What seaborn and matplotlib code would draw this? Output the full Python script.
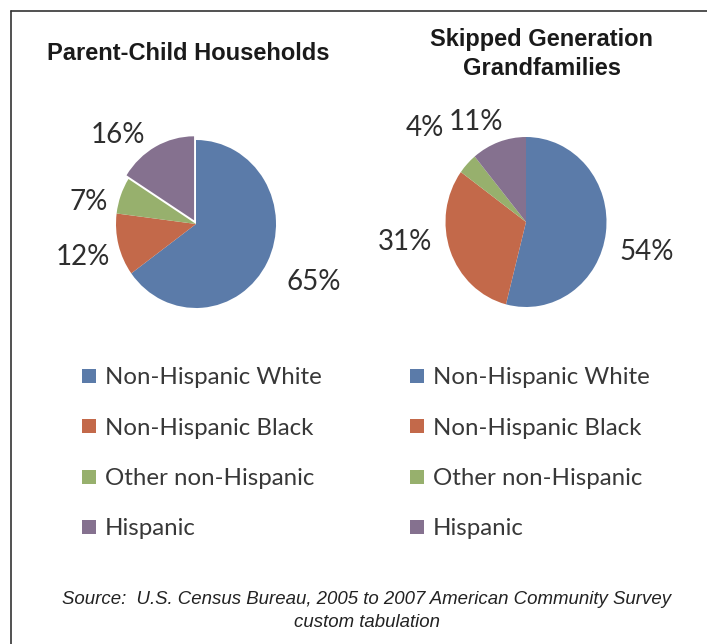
import numpy as np
import matplotlib
matplotlib.use("Agg")
import matplotlib.pyplot as plt
from matplotlib.lines import Line2D
import seaborn as sns

# Race/ethnicity shares for the two household types
categories = ["Non-Hispanic White", "Non-Hispanic Black", "Other non-Hispanic", "Hispanic"]
parent_child = [65, 12, 7, 16]
skipped_gen = [54, 31, 4, 11]
titles = ["Parent-Child Households", "Skipped Generation\nGrandfamilies"]
source_note = ("Source:  U.S. Census Bureau, 2005 to 2007 American Community Survey\n"
               "custom tabulation")

sns.set_theme(style="white")
palette = sns.color_palette(["#5b7ba9", "#c3694a", "#97b06d", "#85718f"])
plt.rcParams["font.family"] = ["Lato", "DejaVu Sans"]

W, H = 707, 644
fig = plt.figure(figsize=(W / 100, H / 100), dpi=100)
fig.patch.set_facecolor("white")


def px_axes(cx, cy, rx, ry, pad=1.25):
    """Axes centred on pixel (cx, cy) whose unit circle spans rx by ry pixels."""
    w, h = 2 * pad * rx, 2 * pad * ry
    ax = fig.add_axes([(cx - w / 2) / W, (H - cy - h / 2) / H, w / W, h / H])
    return ax


def draw_pie(ax, values, explode, label_nudge):
    wedges, _ = ax.pie(values, colors=palette, startangle=90, counterclock=False,
                       explode=explode, wedgeprops=dict(linewidth=0))
    ax.set_aspect("auto")
    ax.set_xlim(-1.25, 1.25)
    ax.set_ylim(-1.25, 1.25)
    ax.axis("off")
    for w, v, (dist, dang) in zip(wedges, values, label_nudge):
        mid = np.deg2rad((w.theta1 + w.theta2) / 2 + dang)
        ax.text(dist * np.cos(mid), dist * np.sin(mid), f"{v}%",
                ha="center", va="center", fontsize=20, color="#2e2e2e")
    return wedges


ax1 = px_axes(196, 224, 80, 84)
draw_pie(ax1, parent_child, [0, 0, 0, 0.05],
         [(1.62, 2), (1.47, 1), (1.37, 9), (1.44, 14)])

ax2 = px_axes(526, 222, 80.5, 85)
draw_pie(ax2, skipped_gen, [0, 0, 0, 0],
         [(1.54, -6), (1.52, -11), (1.67, 2), (1.33, 8)])

# Titles
fig.text(188 / W, 1 - 53 / H, titles[0], ha="center", va="center",
         fontsize=17, fontweight="bold", family=["Liberation Sans"], color="#1a1a1a")
fig.text(542 / W, 1 - 54 / H, titles[1], ha="center", va="center",
         fontsize=17, fontweight="bold", family=["Liberation Sans"], color="#1a1a1a",
         linespacing=1.28)

# Legends
handles = [Line2D([0], [0], marker="s", linestyle="none", markersize=10.2,
                  markerfacecolor=c, markeredgewidth=0) for c in palette]
for x0 in (80.6, 408.6):
    fig.legend(handles, categories, loc="upper left",
               bbox_to_anchor=(x0 / W, 1 - 367.5 / H), frameon=False,
               fontsize=17.3, labelspacing=1.22, handletextpad=0.32,
               handlelength=0.7, borderpad=0, borderaxespad=0,
               labelcolor="#383838")

# Source note
fig.text(367 / W, 1 - 611 / H, source_note, ha="center", va="center",
         fontsize=13.4, style="italic", family=["Liberation Sans"], color="#222222",
         linespacing=1.46)

# Frame lines on top and left
fig.add_artist(Line2D([10.5 / W, 10.5 / W], [0, 1 - 10.5 / H], transform=fig.transFigure,
                      color="#333333", linewidth=1.2))
fig.add_artist(Line2D([10.5 / W, 1], [1 - 10.5 / H, 1 - 10.5 / H], transform=fig.transFigure,
                      color="#333333", linewidth=1.2))

fig.savefig("out.png", dpi=100, facecolor="white")
